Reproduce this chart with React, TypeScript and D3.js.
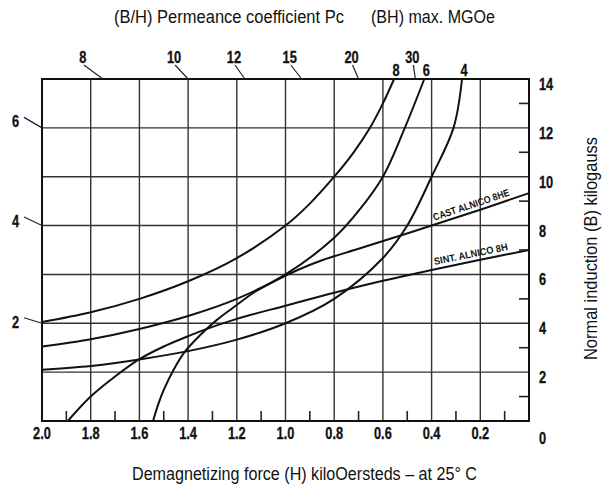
import * as d3 from "d3";

// H axis (kOe), read right-to-left, and B axis (kG)
const hTicks = [2.0, 1.8, 1.6, 1.4, 1.2, 1.0, 0.8, 0.6, 0.4, 0.2];
const hMinor = [1.9, 1.7, 1.5, 1.3, 1.1, 0.9, 0.7, 0.5, 0.3, 0.1];
const bTicks = [0, 2, 4, 6, 8, 10, 12, 14];
const bMinor = [1, 3, 5, 7, 9, 11, 13];

// permeance coefficient marks (B/H), top edge and left edge
const pcTop = [8, 10, 12, 15, 20, 30];
const pcTopShift = [-20, -14, -11, -12, -7, -3];
const pcLeft = [2, 4, 6];
const pcLeftShift = [-1, -4, -6];

// (BH)max curves, [H, B]
const bh8: [number, number][] = [
  [2.0, 4.05], [1.8, 4.45], [1.6, 5.0], [1.4, 5.72], [1.2, 6.67], [1.0, 8.0],
  [0.9, 8.9], [0.8, 10.0], [0.72, 11.0], [0.653, 12.0], [0.6, 13.0], [0.554, 14.0],
];
const bh6: [number, number][] = [
  [2.0, 3.05], [1.8, 3.35], [1.6, 3.77], [1.4, 4.3], [1.2, 5.0], [1.0, 6.0],
  [0.8, 7.5], [0.7, 8.6], [0.6, 10.0], [0.51, 12.0], [0.43, 14.0],
];
const bh4: [number, number][] = [
  [2.0, 2.1], [1.8, 2.25], [1.6, 2.52], [1.4, 2.86], [1.2, 3.33], [1.0, 4.0],
  [0.8, 5.0], [0.6, 6.67], [0.5, 8.0], [0.4, 10.0], [0.31, 12.0], [0.275, 14.0],
];
const bhNames = ["8", "6", "4"];

// demagnetization curves, [H, B]
const castAlnico8HE: [number, number][] = [
  [1.544, 0], [1.522, 0.7], [1.5, 1.27], [1.46, 2.09], [1.413, 2.84], [1.35, 3.52],
  [1.283, 4.13], [1.2, 4.75], [1.125, 5.29], [1.036, 5.77], [0.95, 6.18], [0.85, 6.58],
  [0.7, 7.05], [0.55, 7.52], [0.4, 8.0], [0.2, 8.65], [0, 9.33],
];
const sintAlnico8H: [number, number][] = [
  [1.894, 0], [1.8, 1.0], [1.7, 1.82], [1.6, 2.53], [1.5, 3.05], [1.4, 3.47],
  [1.337, 3.72], [1.2, 4.18], [1.0, 4.72], [0.8, 5.25], [0.6, 5.74], [0.4, 6.18],
  [0.2, 6.6], [0, 7.0],
];

const W = 604;
const H = 487;
const sans = '"Liberation Sans", Arial, Helvetica, sans-serif';
const squeeze = 0.8;

function NText(props: { x: number; y: number; anchor?: string; children: React.ReactNode }) {
  return (
    <text
      transform={`translate(${props.x},${props.y}) scale(${squeeze},1)`}
      textAnchor={props.anchor ?? "middle"}
      dominantBaseline="central"
    >
      {props.children}
    </text>
  );
}

export default function App() {
  const x = d3.scaleLinear().domain([2, 0]).range([42, 529]);
  const y = d3.scaleLinear().domain([0, 14]).range([421, 79]);
  const line = d3
    .line<[number, number]>()
    .x((d) => x(d[0]))
    .y((d) => y(d[1]))
    .curve(d3.curveCatmullRom.alpha(0.5));

  const top = y(14);
  const bottom = y(0);
  const left = x(2);
  const right = x(0);

  // label sitting along a curve, from point i to the curve's end
  const along = (pts: [number, number][], i: number, text: string, len: number, key: string) => {
    const a = pts[i];
    const b = pts[pts.length - 1];
    const ang = (Math.atan2(y(b[1]) - y(a[1]), x(b[0]) - x(a[0])) * 180) / Math.PI;
    return (
      <text
        key={key}
        transform={`translate(${x(a[0]) + 4},${y(a[1]) - 1}) rotate(${ang}) translate(0,-4)`}
        fontFamily={sans}
        fontWeight="bold"
        fontSize={10}
        textLength={len}
        lengthAdjust="spacingAndGlyphs"
        fill="#111"
      >
        {text}
      </text>
    );
  };

  return (
    <svg
      width={W}
      height={H}
      style={{ position: "absolute", left: 0, top: 0, background: "#fff" }}
    >
      <rect width={W} height={H} fill="#fff" />

      {/* grid */}
      <g stroke="#333" strokeWidth={1.4}>
        {hTicks.slice(1).map((h) => (
          <line key={"v" + h} x1={x(h)} x2={x(h)} y1={top} y2={bottom} />
        ))}
        {bTicks.slice(1, -1).map((b) => (
          <line key={"h" + b} x1={left} x2={right} y1={y(b)} y2={y(b)} />
        ))}
      </g>

      {/* curves */}
      <g fill="none" stroke="#111" strokeWidth={2}>
        {[bh8, bh6, bh4, castAlnico8HE, sintAlnico8H].map((c, i) => (
          <path key={i} d={line(c) ?? ""} />
        ))}
      </g>

      {/* frame and minor ticks */}
      <rect x={left} y={top} width={right - left} height={bottom - top} fill="none" stroke="#111" strokeWidth={2} />
      <g stroke="#222" strokeWidth={1.6}>
        {hMinor.map((h) => (
          <line key={"mh" + h} x1={x(h)} x2={x(h)} y1={bottom} y2={bottom - 10} />
        ))}
        {bMinor.map((b) => (
          <line key={"mb" + b} x1={right - 10} x2={right} y1={y(b)} y2={y(b)} />
        ))}
      </g>

      <g fontFamily={sans} fontWeight="bold" fontSize={16} fill="#111" stroke="#111" strokeWidth={0.3}>
        {/* bottom H labels */}
        {hTicks.map((h) => (
          <NText key={"lh" + h} x={x(h)} y={433}>
            {h.toFixed(1)}
          </NText>
        ))}

        {/* right B labels */}
        {bTicks.map((b) => (
          <NText key={"lb" + b} x={539} y={y(b) + (b === 0 ? 17 : 5.5)} anchor="start">
            {b}
          </NText>
        ))}

        {/* permeance coefficient leaders */}
        {pcTop.map((pc, i) => {
          const fx = x(14 / pc);
          const lx = fx + pcTopShift[i];
          return (
            <g key={"pt" + pc}>
              <line x1={lx + 1} y1={65} x2={fx} y2={top} stroke="#222" strokeWidth={1.2} />
              <NText x={lx} y={57}>{pc}</NText>
            </g>
          );
        })}
        {pcLeft.map((pc, i) => {
          const fy = y(2 * pc);
          const ly = fy + pcLeftShift[i];
          return (
            <g key={"pl" + pc}>
              <line x1={24} y1={ly - 4.5} x2={left} y2={fy} stroke="#222" strokeWidth={1.2} />
              <NText x={15.5} y={ly}>{pc}</NText>
            </g>
          );
        })}

        {/* (BH)max curve names */}
        {[bh8, bh6, bh4].map((c, i) => (
          <NText key={"bh" + i} x={x(c[c.length - 1][0]) + 2} y={70}>
            {bhNames[i]}
          </NText>
        ))}
      </g>

      {along(castAlnico8HE, 14, "CAST ALNICO 8HE", 80, "cast")}
      {along(sintAlnico8H, 11, "SINT. ALNICO 8H", 75, "sint")}

      {/* titles */}
      <g fontFamily={sans} fontSize={17.5} fill="#111">
        <text x={114} y={17} dominantBaseline="central" textLength={230} lengthAdjust="spacingAndGlyphs">
          (B/H) Permeance coefficient Pc
        </text>
        <text x={371} y={17} dominantBaseline="central" textLength={124} lengthAdjust="spacingAndGlyphs">
          (BH) max. MGOe
        </text>
        <text x={132} y={474} dominantBaseline="central" textLength={345} lengthAdjust="spacingAndGlyphs">
          Demagnetizing force (H) kiloOersteds – at 25° C
        </text>
        <text
          transform={`translate(591,${(137 + 360) / 2}) rotate(-90)`}
          textAnchor="middle"
          dominantBaseline="central"
          textLength={223}
          lengthAdjust="spacingAndGlyphs"
          fontSize={18}
        >
          Normal induction (B) kilogauss
        </text>
      </g>
    </svg>
  );
}
